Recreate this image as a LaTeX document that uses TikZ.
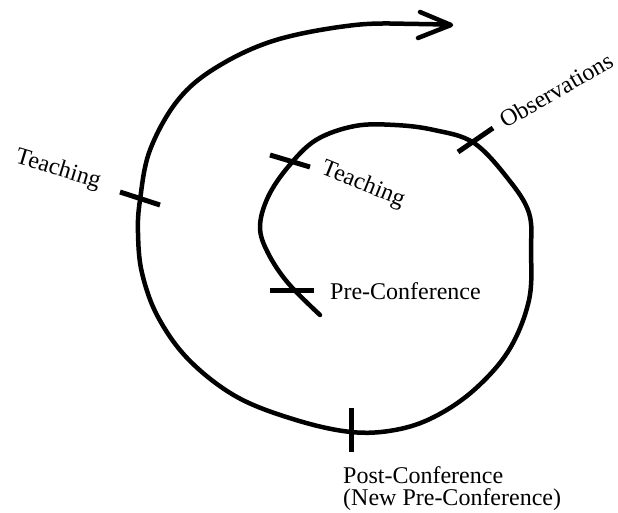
\documentclass[tikz,border=0pt]{standalone}
\usepackage{fontspec}
\setmainfont{Liberation Serif}
\begin{document}
\begin{tikzpicture}[x=1pt,y=1pt,
  spiral/.style={line width=4.5pt,line cap=round,line join=round},
  tick/.style={line width=5pt},
  lbl/.style={inner sep=0pt,font=\fontsize{24}{24}\selectfont}]
\useasboundingbox (0,0) rectangle (618,512);
% spiral
\draw[spiral] plot[smooth,tension=0.6] coordinates {
 (320,197) (288,229) (268,259) (260,285) (268,315) (288,345) (316,372)
 (355,386) (395,387) (434,382) (474,369) (509,332) (529,299) (531,262)
 (529,212) (509,162) (474,122) (434,95) (395,82) (351,80) (296,92)
 (237,115) (189,152) (158,195) (142,239) (138,279) (140,312) (150,362)
 (178,412) (217,445) (276,472) (355,487) (418,488) (450,487)};
% open arrow head
\coordinate (tip) at (451,487);
\coordinate (armA) at (420,500);
\coordinate (armB) at (418,474);
\draw[spiral] (armA) -- (tip) -- (armB);
% ticks
\coordinate (t1a) at (120,320); \coordinate (t1b) at (160,307);
\coordinate (t2a) at (270,357); \coordinate (t2b) at (310,345);
\coordinate (t3a) at (458,360); \coordinate (t3b) at (493,384);
\coordinate (t4a) at (270,222); \coordinate (t4b) at (314,222);
\coordinate (t5a) at (351,104); \coordinate (t5b) at (351,60);
\draw[tick] (t1a) -- (t1b);
\draw[tick] (t2a) -- (t2b);
\draw[tick] (t3a) -- (t3b);
\draw[tick] (t4a) -- (t4b);
\draw[tick] (t5a) -- (t5b);
% labels
\node[lbl,rotate=-17] (teachout) at (58,342) {Teaching};
\node[lbl,rotate=-22] (teachin) at (363,327) {Teaching};
\node[lbl,rotate=30] (obs) at (556,422) {Observations};
\node[lbl,anchor=base west] (pre) at (330,213) {Pre-Conference};
\node[lbl,anchor=base west] (post1) at (343,29) {Post-Conference};
\node[lbl,anchor=base west] (post2) at (343,7) {(New Pre-Conference)};
\end{tikzpicture}
\end{document}
